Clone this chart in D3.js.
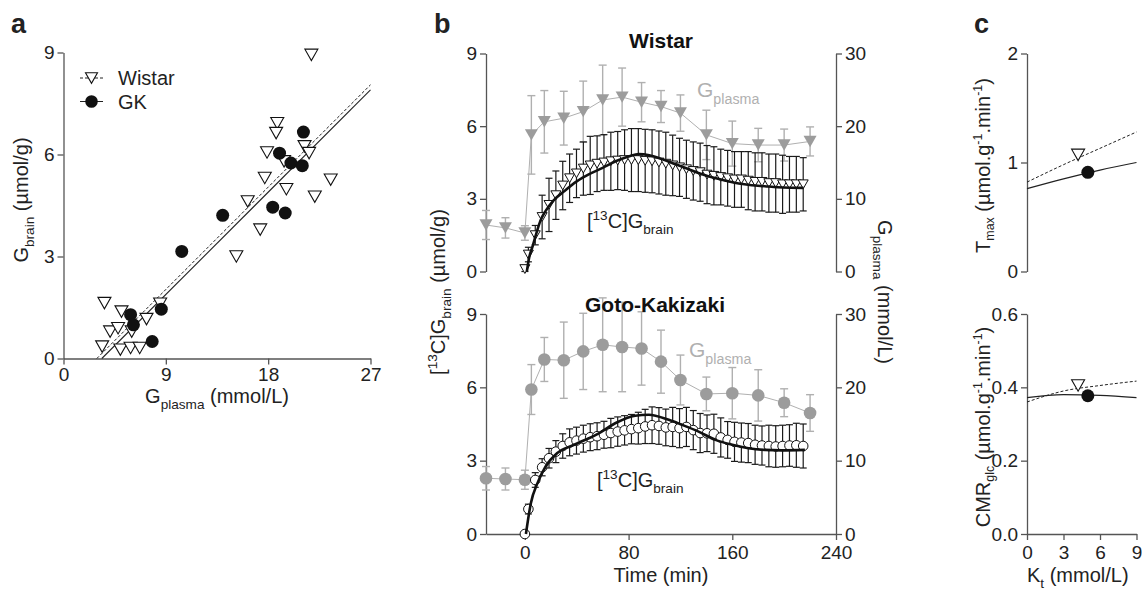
<!DOCTYPE html>
<html>
<head>
<meta charset="utf-8">
<script src="https://cdn.jsdelivr.net/npm/d3@7"></script>
<style>
  body { margin: 0; background: #fff; }
  svg { font-family: "Liberation Sans", Arial, sans-serif; }
</style>
</head>
<body>
<svg id="chart" width="1142" height="590"></svg>
<script>
// ---- panel a : G_brain vs G_plasma
const scatterWistarX = [21.8, 18.8, 18.7, 17.9, 21.2, 21.6, 19.4, 17.7, 23.5, 19.6, 22.1, 16.2, 17.3, 15.2, 3.6, 5.1, 8.5, 7.3, 4.1, 4.8, 6.0, 3.4, 5.0, 5.9, 6.7]
const scatterWistarY = [8.93, 6.92, 6.63, 6.06, 6.24, 6.04, 5.8, 5.31, 5.26, 4.98, 4.76, 4.62, 3.79, 3.0, 1.63, 1.38, 1.61, 1.16, 0.79, 0.89, 0.79, 0.35, 0.26, 0.31, 0.31]
const scatterGkX = [21.1, 19.0, 20.0, 21.0, 18.4, 19.5, 14.0, 10.4, 8.6, 5.9, 6.15, 7.8]
const scatterGkY = [6.66, 6.04, 5.75, 5.67, 4.45, 4.28, 4.21, 3.15, 1.45, 1.29, 0.99, 0.50]
const regWistarX = [2.93, 27], regWistarY = [0, 8.05]
const regGkX = [3.37, 27], regGkY = [0, 7.9]

// ---- panel b : time courses
const plasmaTimes = [-30, -15, 0, 5, 15, 30, 45, 60, 75, 90, 105, 120, 140, 160, 180, 200, 220]
const wistarPlasma = [6.4, 6.0, 5.3, 18.8, 20.6, 21.1, 22.0, 23.6, 24.0, 23.3, 22.7, 21.8, 18.8, 17.6, 17.4, 17.4, 17.9]
const wistarPlasmaSd = [2.0, 1.4, 1.0, 5.4, 4.3, 3.7, 4.2, 4.8, 4.0, 2.7, 2.2, 2.5, 3.4, 3.1, 2.3, 2.2, 2.0]
const gkPlasma = [7.6, 7.5, 7.4, 19.7, 23.8, 23.7, 24.9, 25.8, 25.5, 25.3, 23.5, 21.0, 19.1, 19.2, 18.9, 17.9, 16.5]
const gkPlasmaSd = [1.6, 1.5, 1.3, 3.4, 3.0, 5.2, 5.2, 6.4, 6.1, 5.0, 4.3, 3.4, 2.3, 3.5, 3.5, 1.9, 2.5]

const brainTimes = [0, 2.7, 8, 13.3, 18.6, 23.9, 29.2, 34.5, 39.8, 45.1, 50.4, 55.7, 61, 66.3, 71.6, 76.9, 82.2, 87.5, 92.8, 98.1, 103.4,
  108.7, 114, 119.3, 124.6, 129.9, 135.2, 140.5, 145.8, 151.1, 156.4, 161.7, 167, 172.3, 177.6, 182.9, 188.2, 193.5, 198.8, 204.1, 209.4, 214.7]
const wistarBrain = [0.1, 0.7, 1.5, 2.25, 2.75, 3.15, 3.55, 3.85, 4.05, 4.25, 4.38, 4.45, 4.5, 4.55, 4.58, 4.6, 4.6, 4.6, 4.57, 4.55, 4.5,
  4.45, 4.38, 4.3, 4.22, 4.15, 4.1, 4.0, 3.95, 3.9, 3.85, 3.8, 3.8, 3.75, 3.7, 3.7, 3.65, 3.65, 3.6, 3.6, 3.6, 3.6]
const wistarBrainSd = [0.15, 0.3, 0.4, 0.9, 1.1, 1.0, 1.0, 1.0, 1.0, 1.1, 1.2, 1.15, 1.15, 1.2, 1.2, 1.25, 1.3, 1.3, 1.3, 1.3, 1.3,
  1.3, 1.25, 1.2, 1.2, 1.2, 1.2, 1.2, 1.2, 1.15, 1.15, 1.15, 1.15, 1.2, 1.2, 1.2, 1.2, 1.2, 1.2, 1.15, 1.15, 1.1]
const gkBrain = [0, 1.02, 2.21, 2.73, 3.1, 3.37, 3.6, 3.75, 3.82, 3.9, 3.96, 4.0, 4.06, 4.13, 4.19, 4.24, 4.29, 4.33, 4.4, 4.45, 4.42,
  4.36, 4.38, 4.33, 4.38, 4.25, 4.13, 4.12, 4.1, 3.95, 3.85, 3.77, 3.74, 3.72, 3.65, 3.62, 3.6, 3.58, 3.6, 3.62, 3.63, 3.6]
const gkBrainSd = [0, 0.2, 0.3, 0.35, 0.4, 0.45, 0.5, 0.55, 0.55, 0.55, 0.55, 0.55, 0.55, 0.6, 0.6, 0.6, 0.6, 0.65, 0.7, 0.75, 0.75,
  0.75, 0.8, 0.8, 0.8, 0.8, 0.8, 0.75, 0.8, 0.8, 0.75, 0.8, 0.8, 0.8, 0.8, 0.8, 0.85, 0.85, 0.85, 0.85, 0.9, 0.9]

const wistarFitT = [1.5, 3, 6, 9, 12, 16, 22, 30, 40, 50, 60, 70, 80, 88, 96, 105, 115, 125, 135, 145, 155, 165, 175, 185, 195, 205, 215]
const wistarFit = [0, 0.5, 1.05, 1.6, 2.1, 2.5, 2.93, 3.3, 3.72, 4.03, 4.28, 4.55, 4.75, 4.85, 4.8, 4.65, 4.45, 4.25, 4.05, 3.88, 3.75, 3.63, 3.56, 3.52, 3.48, 3.46, 3.45]
const gkFitT = [0.8, 4.6, 9.7, 16, 25, 38, 57, 70, 85, 95.6, 111, 121, 134, 147, 160, 172.5, 185, 198, 216]
const gkFit = [0, 1.26, 2.08, 2.76, 3.31, 3.65, 4.12, 4.54, 4.84, 4.88, 4.67, 4.47, 4.19, 3.85, 3.65, 3.51, 3.44, 3.42, 3.44]

// ---- panel c : Tmax and CMRglc vs Kt
const ktValues = [0, 3, 6, 9]
const tmaxWistar = [0.82, 0.98, 1.13, 1.28]
const tmaxGk = [0.76, 0.85, 0.93, 1.0]
const cmrWistar = [0.36, 0.39, 0.405, 0.417]
const cmrGk = [0.372, 0.38, 0.378, 0.372]
const ktPoints = [4.2, 5.0]          // Wistar, GK
const tmaxPoints = [1.07, 0.91]
const cmrPoints = [0.405, 0.377]

const svg = d3.select('#chart')
const axisColor = '#555', textColor = '#222', gray = '#9c9c9c', grayLight = '#b0b0b0'

// downward triangle, size = width^2
const triDown = {
    draw(ctx, size) {
        let w = Math.sqrt(size), h = w * 0.88
        ctx.moveTo(-w / 2, -h / 2)
        ctx.lineTo(w / 2, -h / 2)
        ctx.lineTo(0, h / 2)
        ctx.closePath()
    }
}

// text with sub / superscripts: parts = [[str, 'n'|'sub'|'sup'], ...]
function richText(sel, parts, size, subShift, subScale) {
    let shift = 0
    parts.forEach(([s, t]) => {
        let target = t === 'sub' ? size * (subShift || 0.32) : t === 'sup' ? -size * 0.42 : 0
        sel.append('tspan')
            .attr('dy', target - shift)
            .attr('font-size', t === 'n' ? size : size * (subScale || 0.68))
            .text(s)
        shift = target
    })
    return sel
}

function styleAxis(g) {
    g.attr('font-family', null)
    g.select('.domain').attr('stroke', axisColor).attr('stroke-width', 1.3)
    g.selectAll('.tick line').attr('stroke', axisColor).attr('stroke-width', 1.3)
    g.selectAll('.tick text').attr('fill', textColor).attr('font-size', 19)
}

function drawAxis(x, y, axis, pad) {
    svg.append('g')
        .attr('transform', `translate(${x},${y})`)
        .call(axis.tickSize(6).tickPadding(pad || 3).tickSizeOuter(0))
        .call(styleAxis)
}

function label(x, y, parts, size, opts) {
    opts = opts || {}
    let t = svg.append('text')
        .attr('transform', `translate(${x},${y})` + (opts.rotate ? ` rotate(${opts.rotate})` : ''))
        .attr('text-anchor', opts.anchor || 'start')
        .attr('fill', opts.fill || textColor)
        .attr('font-weight', opts.bold ? 'bold' : null)
    richText(t, parts, size, opts.subShift, opts.subScale)
    return t
}

function errorBars(xs, ys, sds, x, y, color, width, cap) {
    let g = svg.append('g').attr('stroke', color).attr('stroke-width', width).attr('fill', 'none')
    xs.forEach((t, i) => {
        if (!sds[i]) return
        let px = x(t), top = y(ys[i] + sds[i]), bot = y(Math.max(0, ys[i] - sds[i]))
        g.append('line').attr('x1', px).attr('x2', px).attr('y1', top).attr('y2', bot)
        g.append('line').attr('x1', px - cap / 2).attr('x2', px + cap / 2).attr('y1', top).attr('y2', top)
        g.append('line').attr('x1', px - cap / 2).attr('x2', px + cap / 2).attr('y1', bot).attr('y2', bot)
    })
}

// =================== panel a
const xA = d3.scaleLinear().domain([0, 27]).range([63.5, 370.5])
const yA = d3.scaleLinear().domain([0, 9]).range([358.5, 52.5])

drawAxis(63.5, 0, d3.axisLeft(yA).tickValues([0, 3, 6, 9]))
drawAxis(0, 358.5, d3.axisBottom(xA).tickValues([0, 9, 18, 27]))

let line = d3.line()
svg.append('path')
    .attr('d', line(regGkX.map((v, i) => [xA(v), yA(regGkY[i])])))
    .attr('stroke', '#222').attr('stroke-width', 1.1).attr('fill', 'none')
svg.append('path')
    .attr('d', line(regWistarX.map((v, i) => [xA(v), yA(regWistarY[i])])))
    .attr('stroke', '#222').attr('stroke-width', 1).attr('stroke-dasharray', '3,2').attr('fill', 'none')

svg.append('g').selectAll('path')
    .data(scatterWistarX.map((v, i) => [v, scatterWistarY[i]]))
    .enter().append('path')
    .attr('d', d3.symbol(triDown, 13 * 13))
    .attr('transform', d => `translate(${xA(d[0])},${yA(d[1])})`)
    .attr('fill', '#fff').attr('stroke', '#111').attr('stroke-width', 1.1)

svg.append('g').selectAll('circle')
    .data(scatterGkX.map((v, i) => [v, scatterGkY[i]]))
    .enter().append('circle')
    .attr('cx', d => xA(d[0])).attr('cy', d => yA(d[1])).attr('r', 6.5)
    .attr('fill', '#111')

// legend
svg.append('line').attr('x1', 80).attr('x2', 103).attr('y1', 78).attr('y2', 78)
    .attr('stroke', '#222').attr('stroke-dasharray', '3,2')
svg.append('path').attr('d', d3.symbol(triDown, 12 * 12)).attr('transform', 'translate(91.5,78)')
    .attr('fill', '#fff').attr('stroke', '#111').attr('stroke-width', 1.1)
svg.append('line').attr('x1', 80).attr('x2', 103).attr('y1', 101.5).attr('y2', 101.5).attr('stroke', '#222')
svg.append('circle').attr('cx', 91.5).attr('cy', 101.5).attr('r', 6.3).attr('fill', '#111')
label(118, 85, [['Wistar', 'n']], 20)
label(118, 109, [['GK', 'n']], 20)

label(28, 200, [['G', 'n'], ['brain', 'sub'], [' (\u00b5mol/g)', 'n']], 20, { rotate: -90, anchor: 'middle' })
label(217, 403, [['G', 'n'], ['plasma', 'sub'], ['  (mmol/L)', 'n']], 20, { anchor: 'middle' })
label(11, 33, [['a', 'n']], 27, { bold: true })

// =================== panel b
const xB = d3.scaleLinear().domain([-30, 240]).range([486, 836])
const panelsB = [
    { top: 53.5, bot: 271.5, plasma: wistarPlasma, plasmaSd: wistarPlasmaSd, brain: wistarBrain, brainSd: wistarBrainSd,
      fitT: wistarFitT, fit: wistarFit, marker: 'tri', title: 'Wistar', titleX: 661, titleY: 48, gLab: [697, 97], cLab: [587, 228] },
    { top: 314, bot: 534, plasma: gkPlasma, plasmaSd: gkPlasmaSd, brain: gkBrain, brainSd: gkBrainSd,
      fitT: gkFitT, fit: gkFit, marker: 'circle', title: 'Goto-Kakizaki', titleX: 655, titleY: 312, gLab: [689, 357], cLab: [597, 487] }
]

panelsB.forEach((p, k) => {
    let y = d3.scaleLinear().domain([0, 9]).range([p.bot, p.top])
    let yR = d3.scaleLinear().domain([0, 30]).range([p.bot, p.top])

    drawAxis(486, 0, d3.axisLeft(y).tickValues([0, 3, 6, 9]))
    drawAxis(836, 0, d3.axisRight(yR).tickValues([0, 10, 20, 30]))
    if (k === 1) drawAxis(0, p.bot, d3.axisBottom(xB).tickValues([0, 80, 160, 240]), 6)

    // plasma glucose (right axis)
    svg.append('path')
        .attr('d', d3.line().x((d, i) => xB(plasmaTimes[i])).y(d => yR(d))(p.plasma))
        .attr('stroke', grayLight).attr('stroke-width', 1).attr('fill', 'none')
    errorBars(plasmaTimes, p.plasma, p.plasmaSd, xB, yR, grayLight, 1.4, 8)
    if (p.marker === 'tri') {
        svg.append('g').selectAll('path').data(p.plasma).enter().append('path')
            .attr('d', d3.symbol(triDown, 13 * 13))
            .attr('transform', (d, i) => `translate(${xB(plasmaTimes[i])},${yR(d)})`)
            .attr('fill', gray)
    } else {
        svg.append('g').selectAll('circle').data(p.plasma).enter().append('circle')
            .attr('cx', (d, i) => xB(plasmaTimes[i])).attr('cy', d => yR(d)).attr('r', 6.3)
            .attr('fill', gray)
    }

    // brain glucose (left axis)
    errorBars(brainTimes, p.brain, p.brainSd, xB, y, '#1a1a1a', 1.2, 7)
    if (p.marker === 'tri') {
        svg.append('g').selectAll('path').data(p.brain).enter().append('path')
            .attr('d', d3.symbol(triDown, 10 * 10))
            .attr('transform', (d, i) => `translate(${xB(brainTimes[i])},${y(d)})`)
            .attr('fill', '#fff').attr('stroke', '#111').attr('stroke-width', 1)
    } else {
        svg.append('g').selectAll('circle').data(p.brain).enter().append('circle')
            .attr('cx', (d, i) => xB(brainTimes[i])).attr('cy', d => y(d)).attr('r', 4.8)
            .attr('fill', '#fff').attr('stroke', '#111').attr('stroke-width', 1)
    }
    svg.append('path')
        .attr('d', d3.line().curve(d3.curveMonotoneX).x((d, i) => xB(p.fitT[i])).y(d => y(d))(p.fit))
        .attr('stroke', '#111').attr('stroke-width', 2.6).attr('fill', 'none')

    label(p.titleX, p.titleY, [[p.title, 'n']], 21, { bold: true, anchor: 'middle', fill: '#111' })
    label(p.gLab[0], p.gLab[1], [['G', 'n'], ['plasma', 'sub']], 21, { fill: grayLight })
    label(p.cLab[0], p.cLab[1], [['[', 'n'], ['13', 'sup'], ['C]G', 'n'], ['brain', 'sub']], 20)
})

label(445, 292, [['[', 'n'], ['13', 'sup'], ['C]G', 'n'], ['brain', 'sub'], [' (\u00b5mol/g)', 'n']], 20, { rotate: -90, anchor: 'middle' })
label(878, 292, [['G', 'n'], ['plasma', 'sub'], [' (mmol/L)', 'n']], 20, { rotate: 90, anchor: 'middle', subShift: 0.25 })
label(661, 582, [['Time (min)', 'n']], 20, { anchor: 'middle' })
label(434, 33, [['b', 'n']], 27, { bold: true })

// =================== panel c
const xC = d3.scaleLinear().domain([0, 9]).range([1027, 1136.5])
const panelsC = [
    { top: 53.5, bot: 271.5, domain: [0, 2], ticks: [0, 1, 2], fmt: d3.format('d'), wistar: tmaxWistar, gk: tmaxGk, pts: tmaxPoints,
      lab: [['T', 'n'], ['max', 'sub'], [' (\u00b5mol.g', 'n'], ['-1', 'sup'], ['.min', 'n'], ['-1', 'sup'], [')', 'n']] },
    { top: 314, bot: 534, domain: [0, 0.6], ticks: [0, 0.2, 0.4, 0.6], fmt: d3.format('.1f'), wistar: cmrWistar, gk: cmrGk, pts: cmrPoints,
      lab: [['CMR', 'n'], ['glc', 'sub'], [' (\u00b5mol.g', 'n'], ['-1', 'sup'], ['.min', 'n'], ['-1', 'sup'], [')', 'n']] }
]

panelsC.forEach((p, k) => {
    let y = d3.scaleLinear().domain(p.domain).range([p.bot, p.top])
    drawAxis(1027, 0, d3.axisLeft(y).tickValues(p.ticks).tickFormat(p.fmt))
    if (k === 1) drawAxis(0, p.bot, d3.axisBottom(xC).tickValues([0, 3, 6, 9]), 6)

    let ln = d3.line().curve(d3.curveMonotoneX).x((d, i) => xC(ktValues[i])).y(d => y(d))
    svg.append('path').attr('d', ln(p.wistar))
        .attr('stroke', '#222').attr('stroke-width', 1).attr('stroke-dasharray', '3,2').attr('fill', 'none')
    svg.append('path').attr('d', ln(p.gk))
        .attr('stroke', '#222').attr('stroke-width', 1.2).attr('fill', 'none')

    svg.append('path').attr('d', d3.symbol(triDown, 13 * 13))
        .attr('transform', `translate(${xC(ktPoints[0])},${y(p.pts[0])})`)
        .attr('fill', '#fff').attr('stroke', '#111').attr('stroke-width', 1.1)
    svg.append('circle').attr('cx', xC(ktPoints[1])).attr('cy', y(p.pts[1])).attr('r', 6.5).attr('fill', '#111')

    label(990, (p.top + p.bot) / 2 + 3, p.lab, 20, { rotate: -90, anchor: 'middle', subShift: 0.2, subScale: 0.62 })
})

label(1027, 582, [['K', 'n'], ['t', 'sub'], ['  (mmol/L)', 'n']], 20)
label(974, 33, [['c', 'n']], 27, { bold: true })
</script>
</body>
</html>
